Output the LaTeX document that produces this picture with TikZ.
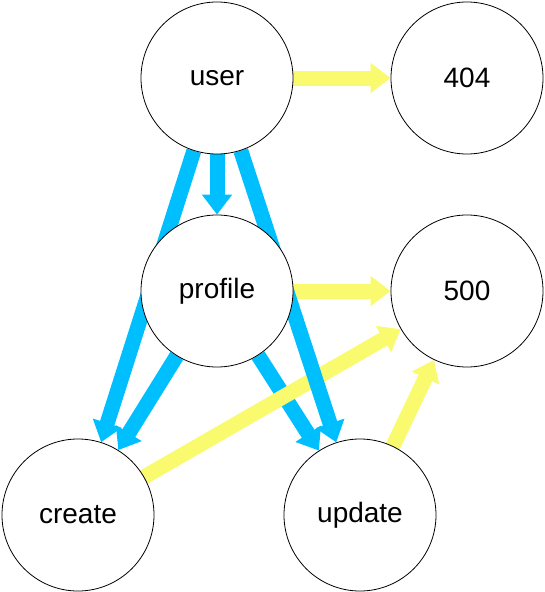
\documentclass[tikz,border=0pt]{standalone}
\usepackage{fontspec}
\setmainfont{Liberation Sans}
\usetikzlibrary{arrows.meta,backgrounds}
\definecolor{ablue}{RGB}{0,191,255}
\definecolor{ayel}{RGB}{250,250,110}
\begin{document}
\begin{tikzpicture}[x=1pt,y=-1pt,
  state/.style={circle,draw=black,line width=0.8pt,fill=white,minimum size=152pt,inner sep=0pt,font=\fontsize{28}{32}\selectfont},
  barrow/.style={draw=ablue,line width=15pt,-{Triangle[width=29pt,length=20pt,fill=ablue]}},
  yarrow/.style={draw=ayel,line width=15pt,-{Triangle[width=29pt,length=20pt,fill=ayel]}}]
\useasboundingbox (0,0) rectangle (545,592);
\node[state] (user) at (217,78) {user};
\node[state] (e404) at (467,78) {404};
\node[state] (profile) at (217,291) {profile};
\node[state] (e500) at (467,291) {500};
\node[state] (create) at (78,515) {create};
\node[state] (update) at (360,515) {update};
\begin{scope}[on background layer]
\draw[barrow] (user) -- (profile);
\draw[barrow] (user) -- (create);
\draw[barrow] (profile) -- (create);
\draw[barrow] (profile) -- (update);
\draw[yarrow] (user) -- (e404);
\draw[yarrow] (profile) -- (e500);
\draw[yarrow] (create) -- (e500);
\draw[yarrow] (update) -- (e500);
\draw[barrow] (user) -- (update);
\end{scope}
\end{tikzpicture}
\end{document}
